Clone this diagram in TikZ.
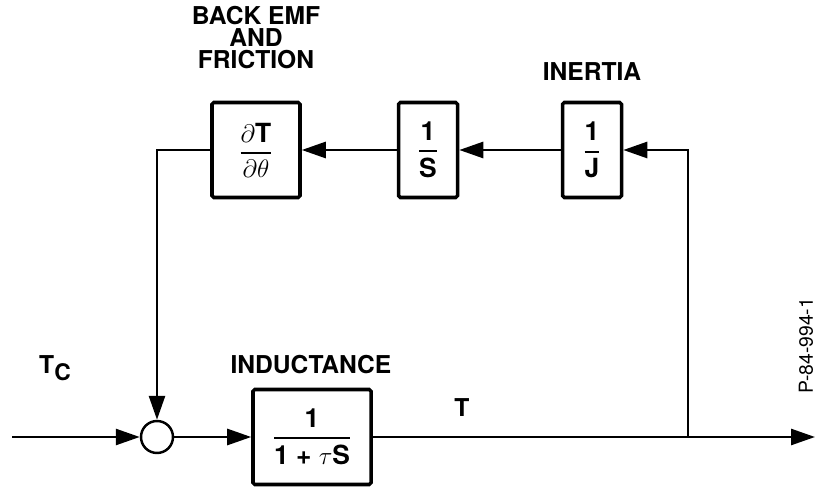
\documentclass[tikz,border=0pt]{standalone}
\usepackage{amsmath}
\usepackage{fontspec}
\setmainfont{TeX Gyre Heros}
\usetikzlibrary{arrows.meta,positioning}
\newcommand{\blkfrac}[2]{$\genfrac{}{}{1.1pt}{0}{#1}{#2}$}

\begin{document}
\begin{tikzpicture}[
  blk/.style={draw,line width=2pt,rounded corners=1pt,minimum height=1.9cm,inner sep=2pt,
    font=\fontsize{15}{17}\selectfont\bfseries},
  lbl/.style={font=\fontsize{14}{12.5}\selectfont\bfseries,align=center},
  sig/.style={line width=1.5pt},
  arr/.style={sig,-{Triangle[length=0.48cm,width=0.32cm]}}
]
  \useasboundingbox (0,0) rectangle (16.32,9.76);

  % forward path
  \coordinate (in) at (0.24,1.02);
  \node[circle,draw,line width=1.4pt,minimum size=0.64cm,inner sep=0pt] (sum) at (3.14,1.02) {};
  \node[blk,minimum width=2.36cm] (ind) at (6.24,1.02) {\blkfrac{\text{1}}{\text{1 + }\tau\text{S}}};
  \coordinate (br) at (13.76,1.02);
  \coordinate (out) at (16.3,1.02);

  % feedback path
  \node[blk,minimum width=1.18cm] (inv) at (11.84,6.76) {\blkfrac{\text{1}}{\text{J}}};
  \node[blk,minimum width=1.18cm] (integ) at (8.56,6.76) {\blkfrac{\text{1}}{\text{S}}};
  \node[blk,minimum width=1.76cm] (fric) at (5.12,6.76) {\blkfrac{\partial\text{T}}{\partial\theta}};

  % labels
  \node[lbl] (fricl) at (5.12,9.0) {BACK EMF\\AND\\FRICTION};
  \node[lbl] (inertl) at (11.84,8.32) {INERTIA};
  \node[lbl] (indl) at (6.22,2.46) {INDUCTANCE};
  \node[lbl] (tcl) at (1.1,2.4) {T\raisebox{-0.5ex}{\fontsize{13}{13}\selectfont C}};
  \node[lbl] (tl) at (9.24,1.6) {T};
  \node[font=\fontsize{11}{13}\selectfont,rotate=90] (code) at (16.12,2.84) {P-84-994-1};

  % connectors
  \draw[arr] (in) -- (sum);
  \draw[arr] (sum) -- (ind);
  \draw[sig] (ind) -- (br);
  \draw[arr] (br) -- (out);
  \draw[arr] (br) |- (inv);
  \draw[arr] (inv) -- (integ);
  \draw[arr] (integ) -- (fric);
  \draw[arr] (fric) -| (sum);
\end{tikzpicture}
\end{document}
